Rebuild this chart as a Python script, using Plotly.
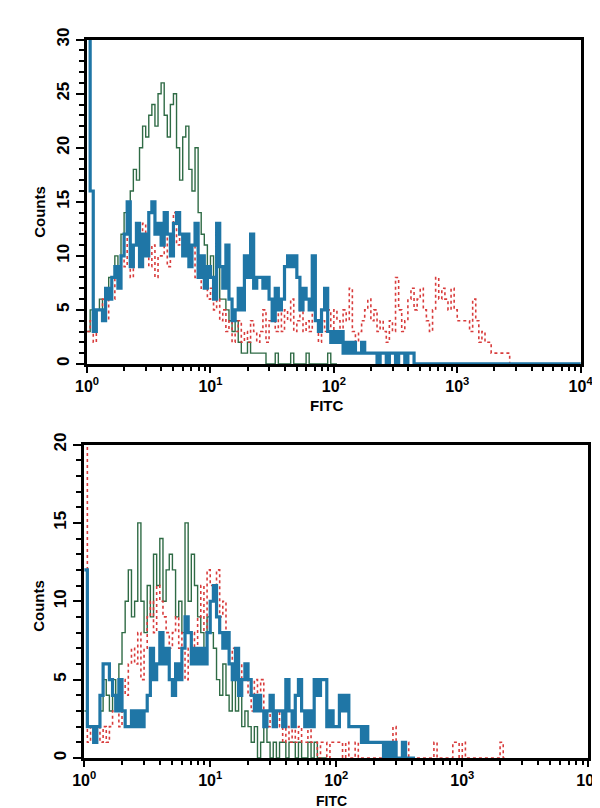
import plotly.graph_objects as go

# Channel resolution: 40 channels per decade of FITC, starting at 10^0
CH_PER_DECADE = 40

# ---------------- Top panel (counts per channel) ----------------
top_green = [3,5,4,5, 6,5,7,8, 8,10,9,12, 14,12,16,18, 17,20,22,21,
             23,24,22,25, 26,23,21,24, 25,20,17,21, 22,18,16,20, 14,12,11,9,
             10,8,9,6, 6,5,4,3, 4,2,1,1, 2,1,1,1, 1,1,0,0,
             0,1,0,0, 0,0,1,0, 0,0,0,1, 0,0,0,0, 0,0,1,0, 0]

top_blue = [40,16,3,5, 5,4,7,6, 8,9,7,10, 12,15,9,11, 13,9,12,10,
            14,15,12,13, 11,14,12,10, 13,14,12,10, 12,9,11,13, 8,10,7,9,
            8,6,13,9, 7,11,6,4, 5,7,5,10, 8,12,7,8, 8,7,8,6,
            4,7,5,6, 9,10,9,10, 8,5,7,6, 5,10,4,3, 5,7,3,2,
            3,2,3,1, 2,1,2,1, 1,2,1,1, 1,1,0,1, 1,0,1,1,
            0,1,1,0, 1,1,0,0,
            0,0,0,0, 0,0,0,0, 0,0,0,0, 0,0,0,0, 0,0,0,0, 0,0,0,0, 0,0,0,0,
            0,0,0,0, 0,0,0,0, 0,0,0,0, 0,0,0,0, 0,0,0,0, 0,0,0,0, 0]

top_red = [3,4,2,5, 5,6,4,7, 6,9,8,10, 9,13,8,11, 12,9,13,10,
           9,11,8,10, 10,13,9,12, 14,11,12,10, 12,9,11,8, 10,7,8,6,
           7,5,6,4, 5,3,4,2, 3,4,2,3, 2,4,3,2, 3,5,2,4,
           4,3,5,3, 5,4,6,3, 4,5,3,4, 3,5,4,2, 4,3,5,3,
           5,4,3,5, 4,7,3,2, 3,4,5,6, 4,5,3,4, 3,2,4,3,
           8,5,3,4, 6,7,5,6, 7,5,4,3, 5,8,6,7, 6,5,7,5,
           4,4,4,4, 3,6,4,2, 3,2,2,1, 1,1,1,1, 1,0]

# ---------------- Bottom panel ----------------
bot_green = [3,2,2,1, 2,3,5,4, 3,5,4,6, 8,10,12,9, 10,15,10,8,
             11,9,13,11, 14,10,12,13, 12,9,10,8, 15,10,13,11, 9,8,7,9,
             8,7,5,4, 6,4,3,5, 3,4,2,3, 2,1,2,0, 1,2,1,0,
             1,0,1,1, 0,1,1,0, 1,0,0,1, 0,1,0,0, 0]

bot_blue = [12,2,2,1, 2,4,6,6, 5,4,3,5, 3,2,2,3, 2,3,2,3,
            4,7,5,6, 8,6,7,5, 4,6,5,7, 9,8,6,7, 6,7,6,8,
            10,11,9,8, 7,8,6,5, 7,4,5,6, 5,4,3,4, 3,2,3,4,
            2,3,3,2, 5,3,2,4, 5,3,2,3, 2,5,4,5, 5,2,3,2,
            2,4,3,4, 2,2,2,2, 1,2,1,1, 1,1,1,0, 1,0,1,0,
            0,1,0,0, 0]

bot_red = [25,1,2,1, 2,1,2,1, 2,3,4,2, 5,4,6,7, 6,8,5,7,
           9,10,8,11, 10,9,8,7, 8,9,7,8, 5,7,8,6, 9,11,8,12,
           11,10,12,9, 10,8,6,7, 5,4,6,5, 4,3,5,4, 5,3,2,3,
           2,3,2,1, 2,1,2,1, 2,1,1,2, 1,1,0,1, 1,0,1,1,
           1,1,0,1, 0,0,1,0, 0,0,0,0, 0,0,0,0, 0,0,2,0,
           0,1,1,0, 0,0,0,0, 0,0,0,1, 0,0,0,0, 0,1,1,0,
           1,0,0,0, 0,0,0,0, 0,0,0,0, 1,0]

x_tick_vals = [1, 10, 100, 1000, 10000]
x_tick_text = ["10<sup>0</sup>", "10<sup>1</sup>", "10<sup>2</sup>", "10<sup>3</sup>", "10<sup>4</sup>"]
top_y_ticks = [0, 5, 10, 15, 20, 25, 30]
bot_y_ticks = [0, 5, 10, 15, 20]

GREEN = "#2f6b45"
BLUE = "#1f76a6"
RED = "#d83c3c"


def channel_x(counts):
    # left edge of each channel on the FITC scale, plus the closing edge
    xs = [10 ** (i / CH_PER_DECADE) for i in range(len(counts) + 1)]
    ys = list(counts) + [0]
    return xs, ys


fig = go.Figure()

for counts, color, width, dash, xa, ya in [
    (top_green, GREEN, 1.4, "solid", "x", "y"),
    (top_red, RED, 1.6, "dot", "x", "y"),
    (top_blue, BLUE, 3.2, "solid", "x", "y"),
    (bot_green, GREEN, 1.4, "solid", "x2", "y2"),
    (bot_red, RED, 1.6, "dot", "x2", "y2"),
    (bot_blue, BLUE, 3.2, "solid", "x2", "y2"),
]:
    xs, ys = channel_x(counts)
    fig.add_trace(go.Scatter(x=xs, y=ys, mode="lines", line_shape="hv",
                             line=dict(color=color, width=width, dash=dash),
                             xaxis=xa, yaxis=ya, showlegend=False, hoverinfo="skip"))

W, H = 600, 808
minor_x = [m * 10 ** d for d in range(4) for m in range(2, 10)]
ytickfont = dict(family="Liberation Sans", size=17, color="black", weight="bold")
xtickfont = dict(family="Liberation Sans", size=16, color="black", weight="bold")

common_x = dict(type="log", range=[0, 4], tickvals=x_tick_vals, ticktext=x_tick_text,
                ticks="outside", ticklen=6, tickwidth=2, tickcolor="black",
                showline=True, linewidth=2.5, linecolor="black", mirror=True,
                showgrid=False, zeroline=False, tickfont=xtickfont,
                minor=dict(ticks="outside", ticklen=4, tickwidth=1.5, tickcolor="black",
                           tickvals=minor_x, showgrid=False))
common_y = dict(ticks="outside", ticklen=8, tickwidth=2, tickcolor="black",
                showline=True, linewidth=3, linecolor="black", mirror=True,
                showgrid=False, zeroline=False, tickangle=-90, tickfont=ytickfont,
                minor=dict(ticks="outside", ticklen=5, tickwidth=1.5, tickcolor="black",
                           dtick=1, showgrid=False))

fig.update_layout(
    width=W, height=H,
    margin=dict(l=0, r=0, t=0, b=0),
    paper_bgcolor="white", plot_bgcolor="white",
    xaxis=dict(common_x, domain=[70 / W, 585 / W], anchor="y"),
    yaxis=dict(common_y, domain=[1 - 350 / H, 1 - 20 / H], anchor="x",
               range=[0, 30], tickvals=top_y_ticks),
    xaxis2=dict(common_x, domain=[67 / W, 593 / W], anchor="y2"),
    yaxis2=dict(common_y, domain=[1 - 751 / H, 1 - 432 / H], anchor="x2",
                range=[0, 20], tickvals=bot_y_ticks),
)

for txt, x, y, ang, size in [
    ("FITC", 320, 392, 0, 15),
    ("FITC", 325, 795, 0, 14),
    ("Counts", 20, 195, -90, 15),
    ("Counts", 20, 596, -90, 15),
]:
    fig.add_annotation(text=txt, x=x / W, y=1 - y / H, xref="paper", yref="paper",
                       showarrow=False, textangle=ang,
                       font=dict(family="Liberation Sans", size=size, color="black", weight="bold"),
                       xanchor="center", yanchor="middle", borderpad=0)

fig.write_html("out.html")
